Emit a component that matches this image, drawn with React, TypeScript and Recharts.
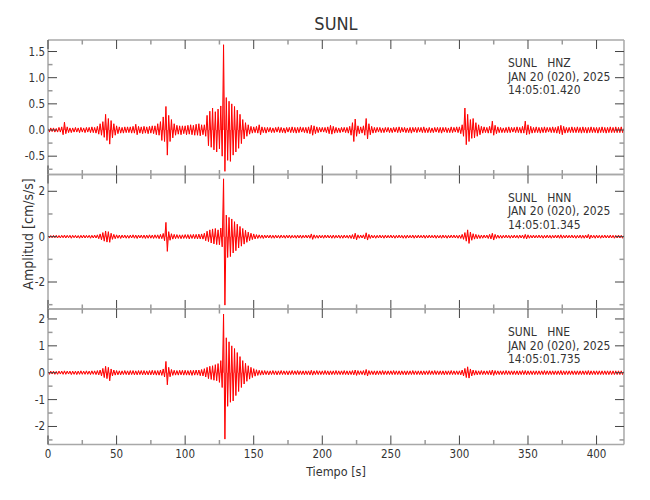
import React from 'react';
import { ComposedChart, Area, XAxis, YAxis } from 'recharts';

// Seismogram envelope, one signed peak per second (cm/s/s)
const HNZ = [
  .03, -.04, .04, -.03, .04, -.04, .03, -.04, .05, -.04,
  .06, -.09, .15, -.07, .06, -.05, .04, -.05, .04, -.04,
  .05, -.04, .04, -.05, .05, -.04, .04, -.05, .05, -.04,
  .05, -.05, .06, -.05, .05, -.06, .07, -.08, .12, -.1,
  .16, -.14, .3, -.2, .22, -.27, .18, -.15, .12, -.1,
  .08, -.07, .06, -.06, .05, -.06, .06, -.05, .06, -.05,
  .06, -.06, .07, -.06, .11, -.09, .07, -.06, .06, -.07,
  .07, -.06, .06, -.07, .07, -.06, .08, -.07, .08, -.09,
  .12, -.1, .16, -.2, .25, -.22, .45, -.48, .28, -.22,
  .2, -.15, .12, -.1, .09, -.08, .08, -.09, .08, -.07,
  .08, -.09, .09, -.08, .1, -.09, .09, -.1, .11, -.1,
  .12, -.11, .1, -.09, .1, -.12, .28, -.3, .36, -.33,
  .42, -.38, .35, -.42, .4, -.36, .46, -.5, 1.63, -.79,
  .62, -.58, .55, -.6, .5, -.48, .45, -.42, .38, -.35,
  .3, -.26, .2, -.17, .14, -.12, .1, -.08, .07, -.06,
  .06, -.05, .07, -.06, .1, -.09, .06, -.05, .05, -.06,
  .05, -.04, .05, -.05, .04, -.05, .05, -.04, .06, -.05,
  .05, -.05, .04, -.06, .05, -.04, .05, -.05, .06, -.05,
  .05, -.06, .05, -.05, .06, -.04, .05, -.05, .05, -.06,
  .06, -.07, .09, -.1, .08, -.07, .06, -.05, .05, -.04,
  .05, -.04, .05, -.05, .06, -.07, .09, -.08, .07, -.06,
  .05, -.05, .04, -.05, .05, -.04, .05, -.05, .05, -.06,
  .07, -.1, .14, -.22, .21, -.12, .08, -.07, .06, -.06,
  .08, -.1, .22, -.17, .12, -.09, .07, -.06, .05, -.05,
  .05, -.04, .05, -.05, .04, -.05, .05, -.04, .05, -.05,
  .04, -.05, .05, -.04, .05, -.05, .06, -.05, .05, -.04,
  .05, -.05, .04, -.05, .05, -.06, .05, -.04, .05, -.05,
  .05, -.04, .05, -.05, .06, -.05, .04, -.05, .05, -.05,
  .04, -.05, .05, -.04, .05, -.05, .05, -.06, .05, -.04,
  .05, -.05, .04, -.05, .06, -.05, .05, -.04, .06, -.05,
  .06, -.07, .1, -.12, .42, -.28, .3, -.22, .2, -.16,
  .22, -.15, .14, -.12, .1, -.09, .07, -.06, .06, -.05,
  .05, -.06, .07, -.06, .17, -.1, .09, -.07, .06, -.05,
  .05, -.05, .04, -.05, .05, -.05, .06, -.05, .05, -.04,
  .05, -.05, .06, -.05, .05, -.06, .07, -.06, .17, -.09,
  .1, -.08, .07, -.06, .05, -.05, .06, -.05, .05, -.06,
  .05, -.05, .06, -.05, .05, -.04, .05, -.05, .06, -.05,
  .05, -.06, .07, -.07, .09, -.09, .07, -.06, .05, -.05,
  .05, -.05, .06, -.05, .05, -.05, .06, -.05, .05, -.06,
  .06, -.05, .05, -.06, .05, -.05, .06, -.05, .05, -.05,
  .05, -.06, .05, -.05, .06, -.05, .05, -.06, .05, -.05,
  .06, -.05, .05, -.05, .06, -.05, .05, -.05, .06, -.05,
  .04,
];

const HNN = [
  .05, -.06, .05, -.05, .06, -.05, .06, -.06, .05, -.06,
  .06, -.05, .07, -.06, .06, -.05, .06, -.07, .06, -.05,
  .06, -.06, .05, -.07, .06, -.06, .07, -.06, .06, -.05,
  .06, -.07, .06, -.06, .07, -.06, .08, -.09, .12, -.14,
  .18, -.2, .25, -.24, .22, -.25, .15, -.12, .1, -.09,
  .08, -.07, .07, -.08, .07, -.06, .07, -.07, .06, -.07,
  .07, -.06, .08, -.07, .07, -.08, .07, -.06, .07, -.07,
  .07, -.08, .07, -.07, .08, -.07, .07, -.08, .08, -.07,
  .08, -.09, .1, -.09, .14, -.18, .63, -.65, .22, -.16,
  .13, -.11, .1, -.09, .09, -.08, .08, -.09, .08, -.08,
  .09, -.08, .09, -.1, .09, -.08, .1, -.09, .1, -.1,
  .11, -.1, .12, -.11, .15, -.18, .24, -.22, .3, -.28,
  .34, -.32, .36, -.35, .3, -.36, .38, -.45, 2.55, -3.02,
  .95, -.92, .85, -.88, .78, -.72, .66, -.62, .55, -.5,
  .45, -.42, .36, -.33, .28, -.25, .2, -.18, .15, -.13,
  .12, -.1, .09, -.08, .08, -.07, .07, -.08, .07, -.06,
  .07, -.06, .07, -.07, .06, -.07, .07, -.06, .06, -.07,
  .07, -.06, .06, -.07, .07, -.06, .07, -.07, .06, -.06,
  .06, -.07, .07, -.06, .07, -.07, .06, -.06, .07, -.06,
  .07, -.07, .12, -.12, .08, -.07, .06, -.07, .07, -.06,
  .06, -.07, .07, -.06, .07, -.06, .06, -.07, .07, -.07,
  .06, -.06, .07, -.07, .06, -.07, .07, -.06, .06, -.07,
  .07, -.08, .09, -.1, .15, -.14, .08, -.07, .07, -.06,
  .08, -.1, .17, -.15, .1, -.08, .07, -.06, .06, -.07,
  .06, -.06, .07, -.06, .06, -.07, .07, -.06, .06, -.06,
  .07, -.06, .06, -.07, .06, -.06, .07, -.06, .06, -.07,
  .06, -.07, .07, -.06, .06, -.06, .07, -.07, .06, -.06,
  .07, -.06, .06, -.06, .07, -.07, .06, -.06, .07, -.06,
  .06, -.06, .07, -.07, .06, -.06, .06, -.07, .07, -.06,
  .06, -.07, .06, -.06, .07, -.06, .07, -.06, .06, -.07,
  .07, -.08, .1, -.12, .18, -.2, .3, -.3, .2, -.16,
  .13, -.11, .1, -.09, .08, -.08, .07, -.07, .07, -.06,
  .07, -.08, .1, -.1, .15, -.15, .1, -.08, .07, -.07,
  .06, -.07, .06, -.06, .07, -.06, .06, -.07, .06, -.06,
  .07, -.06, .06, -.07, .07, -.06, .07, -.08, .1, -.1,
  .08, -.07, .06, -.06, .07, -.06, .06, -.06, .07, -.06,
  .06, -.07, .06, -.06, .07, -.06, .06, -.07, .06, -.06,
  .07, -.06, .07, -.07, .08, -.07, .06, -.06, .07, -.06,
  .06, -.06, .07, -.06, .06, -.07, .06, -.06, .07, -.07,
  .06, -.07, .07, -.06, .1, -.1, .07, -.06, .06, -.07,
  .07, -.06, .06, -.07, .06, -.06, .07, -.06, .06, -.06,
  .07, -.06, .06, -.07, .06, -.06, .07, -.06, .06, -.07,
  .06,
];

const HNE = [
  .05, -.06, .06, -.05, .06, -.06, .05, -.06, .06, -.05,
  .06, -.06, .07, -.06, .06, -.05, .06, -.07, .06, -.06,
  .06, -.07, .06, -.06, .07, -.06, .06, -.06, .07, -.06,
  .06, -.07, .07, -.06, .07, -.07, .08, -.08, .1, -.12,
  .16, -.18, .24, -.22, .2, -.3, .14, -.12, .1, -.09,
  .08, -.08, .07, -.08, .07, -.07, .08, -.07, .07, -.08,
  .08, -.07, .08, -.08, .07, -.08, .08, -.07, .08, -.08,
  .08, -.08, .07, -.08, .08, -.08, .09, -.08, .08, -.09,
  .08, -.09, .1, -.1, .14, -.16, .42, -.45, .2, -.15,
  .12, -.1, .09, -.09, .08, -.09, .09, -.08, .09, -.09,
  .09, -.09, .08, -.09, .09, -.1, .09, -.09, .1, -.09,
  .1, -.11, .12, -.12, .15, -.16, .2, -.22, .24, -.25,
  .26, -.28, .3, -.3, .34, -.36, .45, -.55, 2.18, -2.47,
  1.3, -1.25, 1.15, -1.1, 1.0, -1.05, .9, -.85, .75, -.7,
  .6, -.55, .45, -.42, .35, -.32, .26, -.24, .2, -.18,
  .15, -.13, .11, -.1, .09, -.09, .08, -.08, .08, -.07,
  .07, -.08, .07, -.07, .08, -.07, .07, -.08, .07, -.07,
  .08, -.07, .07, -.07, .07, -.08, .07, -.07, .08, -.07,
  .07, -.07, .08, -.07, .07, -.07, .07, -.08, .07, -.07,
  .07, -.08, .09, -.09, .07, -.07, .08, -.07, .07, -.07,
  .07, -.07, .08, -.07, .07, -.08, .07, -.07, .07, -.07,
  .08, -.07, .07, -.07, .07, -.07, .08, -.07, .07, -.08,
  .07, -.07, .08, -.08, .1, -.1, .08, -.07, .07, -.07,
  .08, -.09, .12, -.12, .08, -.07, .07, -.07, .07, -.08,
  .07, -.07, .07, -.07, .08, -.07, .07, -.07, .07, -.07,
  .07, -.07, .08, -.07, .07, -.07, .07, -.08, .07, -.07,
  .07, -.08, .07, -.07, .07, -.07, .08, -.07, .07, -.07,
  .07, -.07, .07, -.08, .07, -.07, .07, -.07, .08, -.07,
  .07, -.07, .08, -.07, .07, -.07, .07, -.07, .07, -.08,
  .07, -.07, .07, -.07, .08, -.07, .07, -.07, .07, -.07,
  .07, -.08, .1, -.12, .16, -.18, .22, -.2, .14, -.12,
  .1, -.09, .08, -.08, .07, -.07, .08, -.07, .07, -.07,
  .07, -.07, .08, -.08, .1, -.1, .08, -.07, .07, -.07,
  .07, -.07, .07, -.07, .08, -.07, .07, -.07, .07, -.07,
  .07, -.07, .07, -.08, .07, -.07, .08, -.07, .08, -.08,
  .07, -.07, .07, -.07, .07, -.07, .07, -.07, .07, -.07,
  .07, -.07, .08, -.07, .07, -.07, .07, -.07, .07, -.07,
  .07, -.07, .07, -.07, .08, -.08, .07, -.07, .07, -.07,
  .07, -.07, .07, -.07, .07, -.07, .07, -.07, .07, -.07,
  .07, -.07, .07, -.07, .08, -.08, .07, -.07, .07, -.07,
  .07, -.07, .07, -.07, .07, -.07, .07, -.07, .07, -.07,
  .07, -.07, .07, -.07, .07, -.07, .07, -.07, .07, -.07,
  .06,
];

const SAMPLE_STEP = 1; // seconds between envelope samples

const X_TICKS = [0, 25, 50, 75, 100, 125, 150, 175, 200, 225, 250, 275, 300, 325, 350, 375, 400];
const X_MAJOR = [0, 50, 100, 150, 200, 250, 300, 350, 400];

const HNZ_TICKS = [-0.75, -0.5, -0.25, 0, 0.25, 0.5, 0.75, 1, 1.25, 1.5];
const HNZ_MAJOR = [-0.5, 0, 0.5, 1, 1.5];
const HNN_TICKS = [-3, -2, -1, 0, 1, 2];
const HNN_MAJOR = [-2, 0, 2];
const HNE_TICKS = [-2.5, -2, -1.5, -1, -0.5, 0, 0.5, 1, 1.5, 2];
const HNE_MAJOR = [-2, -1, 0, 1, 2];

const HNZ_DOMAIN = [-0.85, 1.72];
const HNN_DOMAIN = [-3.19, 2.74];
const HNE_DOMAIN = [-2.67, 2.37];

const STATION = 'SUNL';
const CHANNELS = ['HNZ', 'HNN', 'HNE'];
const DATE_LABEL = 'JAN 20 (020), 2025';
const START_TIMES = ['14:05:01.420', '14:05:01.345', '14:05:01.735'];

// layout (px)
const W = 650;
const H = 500;
const PLOT_LEFT = 48;
const PLOT_RIGHT = 624;
const PANEL_EDGES = [40, 174.5, 309, 444.5];
const AX = 0.01; // near-zero axis thickness so the frame sits on the plot edge

const FONT = "'DejaVu Sans Condensed', 'DejaVu Sans', sans-serif";
const TEXT_COLOR = '#333';
const FRAME = { stroke: '#a8a8a8', strokeWidth: 1.5 };

const toRows = (values: number[]) => values.map((y, i) => ({ t: i * SAMPLE_STEP, y }));

const panels = [
  { values: HNZ, domain: HNZ_DOMAIN, ticks: HNZ_TICKS, major: HNZ_MAJOR, fmt: (v: number) => v.toFixed(1) },
  { values: HNN, domain: HNN_DOMAIN, ticks: HNN_TICKS, major: HNN_MAJOR, fmt: (v: number) => String(v) },
  { values: HNE, domain: HNE_DOMAIN, ticks: HNE_TICKS, major: HNE_MAJOR, fmt: (v: number) => String(v) },
];

const isMajor = (v: number, majors: number[]) => majors.some((m) => Math.abs(m - v) < 1e-6);

// inward-pointing ticks, pgplot style
function makeTick(side: 'top' | 'bottom' | 'left' | 'right', majors: number[], fmt?: (v: number) => string) {
  return (props: any) => {
    const { x, y, payload } = props;
    const v = payload.value as number;
    const major = isMajor(v, majors);
    const len = major ? 9 : 4.5;
    let x2 = x;
    let y2 = y;
    if (side === 'bottom') y2 = y - len;
    if (side === 'top') y2 = y + len;
    if (side === 'left') x2 = x + len;
    if (side === 'right') x2 = x - len;
    return (
      <g>
        <line x1={x} y1={y} x2={x2} y2={y2} stroke={major ? '#444' : '#999'} strokeWidth={major ? 1 : 1.5} />
        {fmt && major && side === 'bottom' && (
          <text x={x} y={y + 14} textAnchor="middle" fontSize={11.5} fontFamily={FONT} fill={TEXT_COLOR}>
            {fmt(v)}
          </text>
        )}
        {fmt && major && side === 'left' && (
          <text x={x - 3} y={y + 4} textAnchor="end" fontSize={11.5} fontFamily={FONT} fill={TEXT_COLOR}>
            {fmt(v)}
          </text>
        )}
      </g>
    );
  };
}

function Panel({ index }: { index: number }) {
  const p = panels[index];
  const top = PANEL_EDGES[index];
  const bottom = PANEL_EDGES[index + 1];
  const last = index === panels.length - 1;
  return (
    <div style={{ position: 'absolute', left: 0, top: 0 }}>
      <ComposedChart
        width={W}
        height={H}
        data={toRows(p.values)}
        margin={{ top, bottom: H - bottom, left: PLOT_LEFT, right: W - PLOT_RIGHT }}
      >
        <XAxis
          xAxisId="b"
          dataKey="t"
          type="number"
          domain={[0, 420]}
          allowDataOverflow
          ticks={X_TICKS}
          interval={0}
          height={AX}
          tickSize={0}
          tickMargin={0}
          axisLine={FRAME}
          tickLine={false}
          tick={makeTick('bottom', X_MAJOR, last ? (v) => String(v) : undefined)}
        />
        <XAxis
          xAxisId="t"
          orientation="top"
          dataKey="t"
          type="number"
          domain={[0, 420]}
          allowDataOverflow
          ticks={X_TICKS}
          interval={0}
          height={AX}
          tickSize={0}
          tickMargin={0}
          axisLine={FRAME}
          tickLine={false}
          tick={makeTick('top', X_MAJOR)}
        />
        <YAxis
          yAxisId="l"
          type="number"
          domain={p.domain}
          allowDataOverflow
          ticks={p.ticks}
          interval={0}
          width={AX}
          tickSize={0}
          tickMargin={0}
          axisLine={FRAME}
          tickLine={false}
          tick={makeTick('left', p.major, p.fmt)}
        />
        <YAxis
          yAxisId="r"
          orientation="right"
          type="number"
          domain={p.domain}
          allowDataOverflow
          ticks={p.ticks}
          interval={0}
          width={AX}
          tickSize={0}
          tickMargin={0}
          axisLine={FRAME}
          tickLine={false}
          tick={makeTick('right', p.major)}
        />
        <Area
          xAxisId="b"
          yAxisId="l"
          dataKey="y"
          type="linear"
          baseValue={0}
          stroke="#ff0000"
          strokeWidth={1}
          fill="#ff0000"
          fillOpacity={0.55}
          dot={false}
          activeDot={false}
          isAnimationActive={false}
        />
      </ComposedChart>
    </div>
  );
}

export default function App() {
  const cx = (PLOT_LEFT + PLOT_RIGHT) / 2;
  return (
    <div style={{ position: 'absolute', left: 0, top: 0, width: W, height: H, background: '#fff' }}>
      {panels.map((_, i) => (
        <Panel key={i} index={i} />
      ))}
      <svg width={W} height={H} style={{ position: 'absolute', left: 0, top: 0, pointerEvents: 'none' }}>
        <text x={cx} y={30} textAnchor="middle" fontSize={18} fontFamily={FONT} fill={TEXT_COLOR}>
          {STATION}
        </text>
        {CHANNELS.map((ch, i) => {
          const top = PANEL_EDGES[i];
          return (
            <g key={ch} fontSize={12} fontFamily={FONT} fill={TEXT_COLOR}>
              <text x={508} y={top + 27} xmlSpace="preserve">{`${STATION}   ${ch}`}</text>
              <text x={508} y={top + 40.5}>{DATE_LABEL}</text>
              <text x={508} y={top + 54}>{START_TIMES[i]}</text>
            </g>
          );
        })}
        <text x={cx} y={476} textAnchor="middle" fontSize={12.5} fontFamily={FONT} fill={TEXT_COLOR}>
          Tiempo [s]
        </text>
        <text
          x={0}
          y={0}
          transform={`translate(33, 234) rotate(-90)`}
          textAnchor="middle"
          fontSize={14}
          fontFamily={FONT}
          fill={TEXT_COLOR}
        >
          Amplitud [cm/s/s]
        </text>
      </svg>
    </div>
  );
}
